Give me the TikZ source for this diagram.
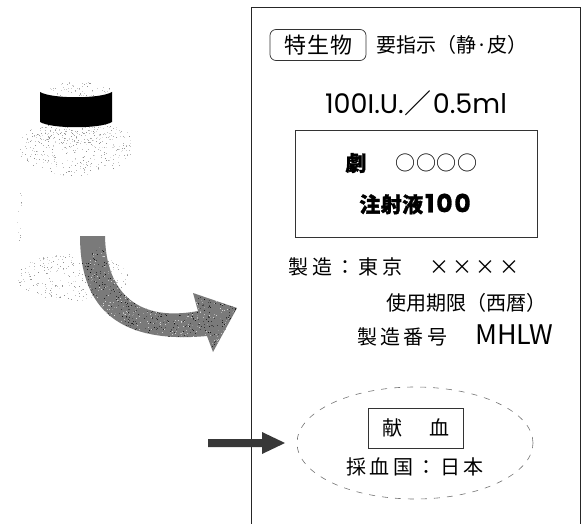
\documentclass[tikz,border=0pt]{standalone}
\usepackage{fontspec}
\setmainfont{Noto Sans CJK JP}
\newfontfamily\jpsp{Noto Sans CJK JP}[LetterSpace=17]
\newfontfamily\jpheavy{Noto Sans CJK JP}[LetterSpace=2, BoldFeatures={FakeBold=1.5}]
\newfontfamily\geo{Poppins}[BoldFeatures={FakeBold=1.2}]
\usetikzlibrary{shapes.geometric}

% scatter small square specks inside an ellipse: cx, cy, rx, ry, count, base shade, shade range
\newcommand\speckle[7]{%
  \foreach \k in {1,...,#5}{%
    \pgfmathsetmacro\spkr{sqrt(rnd)}%
    \pgfmathsetmacro\spka{360*rnd}%
    \pgfmathsetmacro\spks{#6+#7*rnd}%
    \fill[black!\spks] ({#1+#3*\spkr*cos(\spka)},{#2+#4*\spkr*sin(\spka)}) rectangle ++(1,1);
  }}

\begin{document}
\begin{tikzpicture}[x=1pt,y=-1pt,
  lbl/.style={inner sep=0pt, font=\fontsize{20}{24}\selectfont},
  wide/.style={inner sep=0pt, font=\fontsize{20}{24}\selectfont\jpsp},
  heavy/.style={inner sep=0pt, font=\fontsize{21}{24}\selectfont\jpheavy\bfseries},
  thinbox/.style={draw=black!80, line width=0.7pt},
  frameline/.style={draw=black!85, line width=0.8pt},
  stipple/.style={fill=black!52}]
\useasboundingbox (0,0) rectangle (581,524);
\pgfmathsetseed{11}

% --- vial: speckled glass and black cap ---
\speckle{78}{89}{32}{8}{60}{12}{33}
\speckle{76}{146}{58}{30}{340}{10}{35}
\speckle{76}{132}{45}{12}{130}{12}{33}
\speckle{19}{215}{3}{35}{12}{12}{30}
\speckle{72}{277}{56}{24}{270}{10}{35}
\fill[black] (40,92) .. controls (52,99) and (100,99) .. (112,92)
  -- (112,122) .. controls (100,129) and (52,129) .. (40,122) -- cycle;

% --- curved arrow towards the label ---
\path[stipple] (80,236) .. controls (80,300) and (110,345) .. (207,336)
  -- (213,352) -- (237,308) -- (193,293) -- (198,311)
  .. controls (140,322) and (106,295) .. (105,236) -- cycle;
\begin{scope}
  \clip (80,236) .. controls (80,300) and (110,345) .. (207,336)
    -- (213,352) -- (237,308) -- (193,293) -- (198,311)
    .. controls (140,322) and (106,295) .. (105,236) -- cycle;
  \speckle{160}{295}{90}{65}{900}{15}{30}
  \speckle{160}{295}{90}{65}{900}{65}{30}
\end{scope}

% --- label outline ---
\draw[frameline] (251,524) -- (251,7) -- (580,7) -- (580,524);

% --- label contents ---
\node[thinbox, rounded corners=6pt, minimum width=96pt, minimum height=31pt] (tok) at (318,45) {};
\node[inner sep=0pt, font=\fontsize{22}{24}\selectfont\addfontfeatures{LetterSpace=5}] (toklabel) at (318.5,45) {特生物};
\node[lbl] (yoshiji) at (452,45) {要指示（静·皮）};
\node[inner sep=0pt, font=\fontsize{27}{30}\selectfont] (dose) at (416,103)
  {{\geo 100I.U.}\kern1pt／\kern1pt{\geo 0.5ml}};
\node[thinbox, minimum width=242pt, minimum height=107pt] (mainbox) at (416,183.5) {};
\node[heavy] (geki) at (356,163) {劇};
\node[lbl, font=\fontsize{20}{24}\selectfont\addfontfeatures{LetterSpace=4}] (circles) at (436.5,163) {○○○○};
\node[heavy] (drugname) at (415,204) {注射液\kern2pt{\geo\fontsize{25}{26}\selectfont\bfseries\addfontfeatures{LetterSpace=7}100}};
\node[wide] (maker) at (404,267) {製造：東京　××××};
\node[lbl] (expiry) at (466,303) {使用期限（西暦）};
\node[wide, anchor=west] (lot) at (357,335) {製造番号\hspace{28pt}{\normalfont\fontsize{27}{28}\selectfont MHLW}};
\node[ellipse, draw=black!55, dashed, dash pattern=on 6pt off 7pt, line width=0.6pt,
      minimum width=236pt, minimum height=112pt] (donor) at (415,443) {};
\node[thinbox, minimum width=95pt, minimum height=40pt] (kenketsu) at (415.5,428) {};
\node[wide] (kenlabel) at (416,428) {献　血};
\node[wide] (origin) at (415,467) {採血国：日本};

% --- straight pointer into the donor field ---
\coordinate (ptr) at (208,443);
\coordinate (ptrtip) at (285,443);
\fill[black!78] (ptr) ++(0,-4) -- ++(54,0) -- ++(0,-7) -- (ptrtip)
  -- ++(-23,11) -- ++(0,-7) -- ++(-54,0) -- cycle;
\end{tikzpicture}
\end{document}
